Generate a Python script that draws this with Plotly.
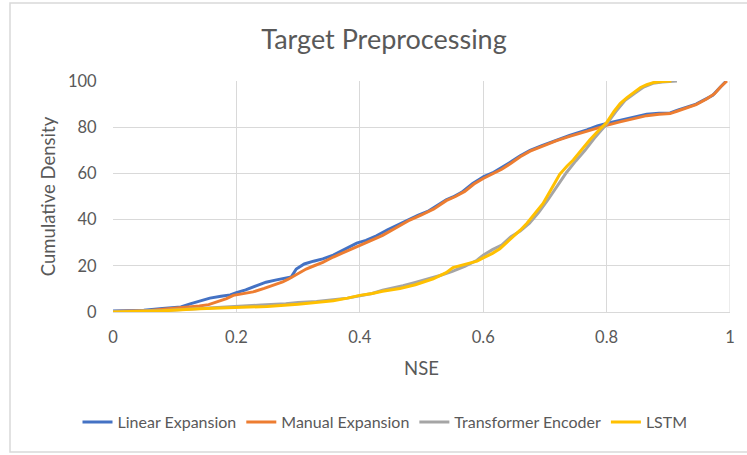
import plotly.graph_objects as go

# Cumulative distribution of NSE scores for each target-preprocessing variant
linear_x = [0.00, 0.05, 0.08, 0.11, 0.125, 0.14, 0.157, 0.175, 0.19, 0.20, 0.215, 0.233, 0.248,
            0.265, 0.28, 0.289, 0.297, 0.31, 0.325, 0.34, 0.357, 0.375, 0.395, 0.41, 0.427, 0.445,
            0.465, 0.48, 0.494, 0.51, 0.525, 0.54, 0.551, 0.565, 0.583, 0.601, 0.615, 0.627, 0.645,
            0.66, 0.676, 0.695, 0.719, 0.74, 0.768, 0.785, 0.80, 0.82, 0.843, 0.865, 0.885, 0.903,
            0.915, 0.93, 0.945, 0.962, 0.972, 0.983, 0.994]
linear_y = [0.4, 0.8, 1.5, 2.2, 3.5, 4.6, 6.0, 6.8, 7.4, 8.4, 9.6, 11.4, 12.9,
            13.9, 14.6, 15.2, 18.6, 20.8, 22.0, 23.0, 24.6, 27.0, 29.8, 31.0, 33.0, 35.6,
            38.2, 40.0, 41.8, 43.5, 46.0, 48.6, 49.8, 51.8, 55.6, 58.6, 60.2, 62.0, 65.0,
            67.6, 70.0, 72.0, 74.5, 76.4, 78.8, 80.5, 81.6, 82.8, 84.0, 85.6, 86.0, 86.2,
            87.4, 88.6, 90.0, 92.4, 93.8, 97.0, 100.0]

manual_x = [0.00, 0.06, 0.09, 0.12, 0.14, 0.155, 0.168, 0.184, 0.195, 0.21, 0.227, 0.245, 0.26,
            0.275, 0.284, 0.30, 0.313, 0.324, 0.34, 0.357, 0.375, 0.395, 0.415, 0.437, 0.46,
            0.481, 0.50, 0.52, 0.54, 0.555, 0.57, 0.585, 0.60, 0.615, 0.63, 0.645, 0.66, 0.676,
            0.695, 0.719, 0.74, 0.768, 0.785, 0.80, 0.82, 0.843, 0.865, 0.885, 0.903, 0.915,
            0.93, 0.945, 0.962, 0.975, 0.985, 0.995]
manual_y = [0.2, 0.6, 1.4, 2.0, 2.6, 3.2, 4.3, 5.8, 7.2, 7.9, 8.7, 10.2, 11.6,
            13.0, 14.2, 16.8, 18.6, 19.8, 21.5, 23.8, 26.0, 28.2, 30.6, 33.2, 36.8,
            39.8, 42.0, 44.6, 48.2, 50.0, 52.2, 55.4, 57.8, 59.8, 61.8, 64.4, 67.2, 69.6,
            71.6, 74.2, 76.0, 78.4, 79.8, 80.8, 82.2, 83.6, 85.0, 85.6, 85.9, 87.0,
            88.3, 89.8, 92.2, 94.5, 97.5, 100.0]

transformer_x = [0.00, 0.08, 0.12, 0.16, 0.20, 0.24, 0.28, 0.30, 0.33, 0.357, 0.38, 0.40, 0.42,
                 0.437, 0.455, 0.47, 0.49, 0.51, 0.53, 0.55, 0.57, 0.59, 0.60, 0.615, 0.63,
                 0.645, 0.66, 0.675, 0.69, 0.705, 0.72, 0.735, 0.75, 0.765, 0.78, 0.80, 0.815,
                 0.83, 0.845, 0.86, 0.875, 0.89, 0.914]
transformer_y = [0.2, 0.6, 1.2, 1.9, 2.6, 3.0, 3.6, 4.1, 4.5, 5.2, 6.0, 7.0, 8.0,
                 9.4, 10.4, 11.4, 12.8, 14.2, 15.8, 17.6, 19.8, 22.4, 24.6, 27.0, 29.0,
                 32.6, 35.0, 38.4, 43.2, 48.6, 54.6, 60.4, 65.4, 70.0, 75.2, 81.4, 86.8,
                 91.6, 94.6, 97.4, 99.0, 99.6, 100.0]

lstm_x = [0.00, 0.08, 0.14, 0.195, 0.25, 0.30, 0.33, 0.357, 0.38, 0.40, 0.42, 0.437, 0.465,
          0.49, 0.519, 0.54, 0.551, 0.573, 0.59, 0.60, 0.615, 0.627, 0.648, 0.66, 0.671,
          0.685, 0.697, 0.71, 0.724, 0.736, 0.746, 0.76, 0.773, 0.787, 0.80, 0.812, 0.822,
          0.833, 0.843, 0.855, 0.865, 0.877, 0.89, 0.905]
lstm_y = [0.0, 0.5, 1.4, 2.0, 2.4, 3.4, 4.2, 4.9, 6.0, 7.2, 8.0, 9.0, 10.2,
          11.8, 14.4, 17.0, 19.2, 20.6, 22.0, 23.4, 25.4, 27.4, 32.4, 35.4, 38.4,
          42.8, 47.0, 53.0, 59.6, 63.2, 65.8, 70.4, 74.6, 78.6, 82.0, 86.8, 90.2,
          92.8, 94.8, 97.2, 98.4, 99.4, 99.8, 100.0]

series = [
    ("Linear Expansion", linear_x, linear_y, "#4472C4"),
    ("Manual Expansion", manual_x, manual_y, "#ED7D31"),
    ("Transformer Encoder", transformer_x, transformer_y, "#A5A5A5"),
    ("LSTM", lstm_x, lstm_y, "#FFC000"),
]

x_ticks = [0, 0.2, 0.4, 0.6, 0.8, 1]
x_tick_text = ["0", "0.2", "0.4", "0.6", "0.8", "1"]
y_ticks = [0, 20, 40, 60, 80, 100]

FONT = "Lato, 'Open Sans', sans-serif"
TEXT = "#595959"
GRID = "#D9D9D9"

fig = go.Figure()
for name, xs, ys, color in series:
    fig.add_trace(go.Scatter(x=xs, y=ys, mode="lines", name=name,
                             line=dict(color=color, width=3)))

fig.update_layout(
    width=747, height=455,
    margin=dict(l=113, r=17, t=81, b=143),
    paper_bgcolor="white", plot_bgcolor="white",
    font=dict(family=FONT, color=TEXT),
    title=dict(text="Target Preprocessing", x=384 / 747, xanchor="center",
               y=1 - 40 / 455, yanchor="middle",
               font=dict(size=27, color=TEXT, family=FONT)),
    legend=dict(orientation="h", xref="container", yref="container",
                x=385 / 747, xanchor="center", y=1 - 422 / 455, yanchor="middle",
                font=dict(size=16, color=TEXT), itemwidth=30,
                bgcolor="rgba(0,0,0,0)"),
    showlegend=True,
)

fig.update_xaxes(range=[0, 1], tickvals=x_ticks, ticktext=x_tick_text,
                 showgrid=True, gridcolor=GRID, gridwidth=1,
                 showline=True, linecolor=GRID, linewidth=1, mirror=False,
                 zeroline=False, ticks="outside", ticklen=10, tickcolor="rgba(0,0,0,0)",
                 tickfont=dict(size=16.5, color=TEXT),
                 title=dict(text="NSE", font=dict(size=18.5, color=TEXT), standoff=16))
fig.update_yaxes(range=[0, 100], tickvals=y_ticks,
                 showgrid=True, gridcolor=GRID, gridwidth=1,
                 showline=False, zeroline=False,
                 ticks="outside", ticklen=12, tickcolor="rgba(0,0,0,0)",
                 tickfont=dict(size=16.5, color=TEXT),
                 title=dict(text="Cumulative Density", font=dict(size=18.5, color=TEXT), standoff=7))

# Right edge of the plot area
fig.add_shape(type="line", xref="x", yref="y", x0=1, x1=1, y0=0, y1=100,
              line=dict(color=GRID, width=1), layer="below")
# Chart-area border
fig.add_shape(type="rect", xref="paper", yref="paper",
              x0=(10 - 113) / 617, x1=(760 - 113) / 617,
              y0=(312 - 452) / 231, y1=(312 - 3) / 231,
              line=dict(color=GRID, width=1.5), fillcolor="rgba(0,0,0,0)", layer="below")

fig.write_html("out.html")
